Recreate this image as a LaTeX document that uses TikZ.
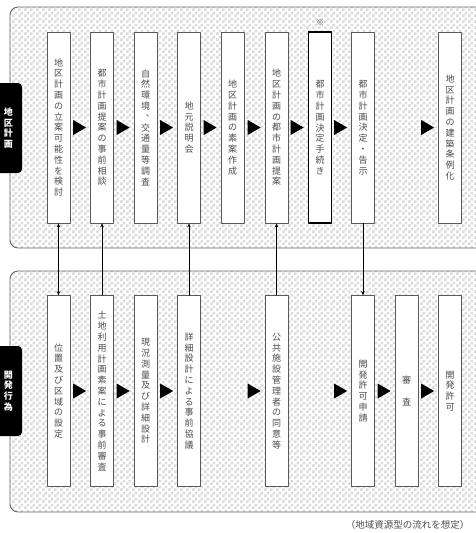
\documentclass[tikz,border=0pt]{standalone}
\usepackage{fontspec}
\setmainfont{Noto Sans CJK JP}
\usetikzlibrary{arrows.meta,patterns}

% fine checker for the panels
\pgfdeclarepatternformonly{finecheck}{\pgfpointorigin}{\pgfqpoint{6pt}{6pt}}{\pgfqpoint{6pt}{6pt}}{%
	\pgfpathrectangle{\pgfpointorigin}{\pgfqpoint{3pt}{3pt}}%
	\pgfpathrectangle{\pgfqpoint{3pt}{3pt}}{\pgfqpoint{3pt}{3pt}}%
	\pgfusepath{fill}}

% vertical (tategaki) text: one character per line
\newcommand\tate[1]{\vbox{\baselineskip=10.8pt\lineskiplimit=-20pt\tatestep#1\relax}}
\def\tatestep#1{\ifx\relax#1\else\hbox to 1em{\hss#1\hss}\expandafter\tatestep\fi}
\newcommand\vten{\makebox[1em][l]{\hspace{0.55em}\raisebox{0.4em}[0pt][0pt]{\rlap{、}}}}

\begin{document}
\begin{tikzpicture}[
		x=1pt,y=-1pt,
		>={Stealth[length=4pt,width=3.5pt]},
		line cap=round,
		line join=round,
		panel/.style={draw=gray!80!black,line width=0.9pt,rounded corners=8pt,pattern=finecheck,pattern color=gray!28},
		tab/.style={fill=black,rounded corners=4pt,minimum width=27pt,minimum height=90pt,inner sep=0pt,text=white,font=\bfseries\fontsize{9}{11}\selectfont},
		stepbox/.style={draw=gray!70!black,fill=white,line width=0.7pt,minimum width=23pt,minimum height=191pt,inner sep=0pt,text=black!70,font=\fontsize{9}{10.8}\selectfont},
		keystep/.style={draw=black,line width=1.6pt},
		link/.style={line width=0.7pt}
		]
		\useasboundingbox (0,0) rectangle (475,533);
		% panels
		\path[panel] (10,7) rectangle (490,248);
		\path[panel] (10,271) rectangle (490,512);
		\node[tab] (tabA) at (8.5,128) {\tate{地区計画}};
		\node[tab] (tabB) at (8.5,391) {\tate{開発行為}};
		% 地区計画
		\node[stepbox] (t1) at (58.5,127.5) {\tate{地区計画の立案可能性を検討}};
		\node[stepbox] (t2) at (102,127.5) {\tate{都市計画提案の事前相談}};
		\node[stepbox] (t3) at (145.5,127.5) {\tate{自然環境\vten 交通量等調査}};
		\node[stepbox] (t4) at (189,127.5) {\tate{地元説明会}};
		\node[stepbox] (t5) at (232.5,127.5) {\tate{地区計画の素案作成}};
		\node[stepbox] (t6) at (276.5,127.5) {\tate{地区計画の都市計画提案}};
		\node[stepbox,keystep] (t7) at (320,127.5) {\tate{都市計画決定手続き}};
		\node[stepbox] (t8) at (363,127.5) {\tate{都市計画決定・告示}};
		\node[stepbox] (t10) at (450,127.5) {\tate{地区計画の建築条例化}};
		\node[font=\fontsize{8}{8}\selectfont,text=black!70] (kome) at (320,23) {※};
		% 開発行為
		\node[stepbox] (b1) at (58.5,391) {\tate{位置及び区域の設定}};
		\node[stepbox] (b2) at (102,391) {\tate{土地利用計画素案による事前審査}};
		\node[stepbox] (b3) at (145.5,391) {\tate{現況測量及び詳細設計}};
		\node[stepbox] (b4) at (189,391) {\tate{詳細設計による事前協議}};
		\node[stepbox] (b6) at (276.5,391) {\tate{公共施設管理者の同意等}};
		\node[stepbox] (b8) at (363,391) {\tate{開発許可申請}};
		\node[stepbox] (b9) at (406.5,391) {\tate{審　査}};
		\node[stepbox] (b10) at (450,391) {\tate{開発許可}};
		% flow marks
		\foreach \n in {t2,t3,t4,t5,t6,t7,t8,t10,b2,b3,b4,b6,b8,b9,b10}
			\fill[shift={(\n.west)}] (-17,-7.5) -- (-17,7.5) -- (-4,0) -- cycle;
		% links between the two rows
		\draw[link,<->] (t1.south) -- (b1.north);
		\draw[link,<-] (t2.south) -- (b2.north);
		\draw[link,<-] (t4.south) -- (b4.north);
		\draw[link,<-] (t6.south) -- (b6.north);
		\draw[link,->] (t8.south) -- (b8.north);
		\node[anchor=east,font=\fontsize{9.5}{10}\selectfont,text=black!70] (note) at (473,525) {（地域資源型の流れを想定）};
\end{tikzpicture}
\end{document}
